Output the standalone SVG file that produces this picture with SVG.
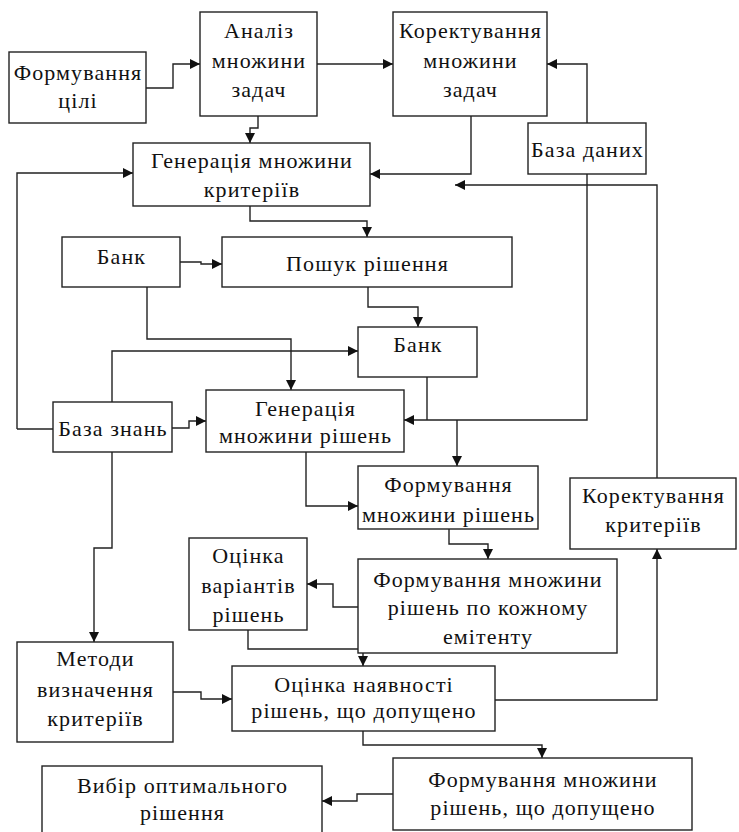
<svg xmlns="http://www.w3.org/2000/svg" width="739" height="832" viewBox="0 0 739 832" font-family="Liberation Serif, Times New Roman, DejaVu Serif, serif">
  <style>
    .box { fill: #fff; stroke: #222; stroke-width: 1.4; }
    .lbl { font-size: 22px; letter-spacing: 1.1px; fill: #111; text-anchor: middle; }
    .wire { fill: none; stroke: #222; stroke-width: 1.4; }
  </style>
  <defs>
    <marker id="arr" viewBox="0 0 10 10" refX="10" refY="5" markerWidth="10" markerHeight="10" markerUnits="userSpaceOnUse" orient="auto">
      <path d="M0,0 L10,5 L0,10 z" fill="#111"/>
    </marker>
  </defs>

  <rect width="739" height="832" fill="#fff"/>

  <!-- connectors -->
  <g id="connectors" class="wire" marker-end="url(#arr)">
    <path d="M146,88 H173 V64 H200"/>
    <path d="M317,64 H393"/>
    <path d="M258,116 V128 H250 V143"/>
    <path d="M471,116 V174 H370"/>
    <path d="M587,123 V64 H547"/>
    <path d="M657,478 V185 H455"/>
    <path d="M17,429 V173 H133"/>
    <path d="M250,206 V221 H367 V237"/>
    <path d="M180,262 H201 V264 H222"/>
    <path d="M147,287 V339 H291 V390"/>
    <path d="M368,287 V307 H418 V327"/>
    <path d="M112,402 V351 H358"/>
    <path d="M17,429 H53" marker-end="none"/>
    <path d="M172,428 H189 V421 H206"/>
    <path d="M587,174 V420 H404"/>
    <path d="M427,377 V420" marker-end="none"/>
    <path d="M457,420 V466"/>
    <path d="M306,452 V506 H358"/>
    <path d="M449,529 V544 H488 V559"/>
    <path d="M358,607 H333 V584 H307"/>
    <path d="M248,630 V649 H363 V666"/>
    <path d="M112,452 V548 H94 V642"/>
    <path d="M173,692 H201 V699 H232"/>
    <path d="M495,700 H657 V549"/>
    <path d="M363,731 V745 H542 V758"/>
    <path d="M393,794 H357 V801 H322"/>
  </g>

  <g id="formuvannia-tsili">
    <rect class="box" x="9" y="52" width="137" height="71"/>
    <text class="lbl" x="78" y="80">Формування</text>
    <text class="lbl" x="78" y="108">цілі</text>
  </g>

  <g id="analiz">
    <rect class="box" x="200" y="12" width="117" height="104"/>
    <text class="lbl" x="259" y="38">Аналіз</text>
    <text class="lbl" x="259" y="68">множини</text>
    <text class="lbl" x="259" y="97">задач</text>
  </g>

  <g id="koryguvannia-zadach">
    <rect class="box" x="393" y="12" width="154" height="104"/>
    <text class="lbl" x="470.5" y="38">Коректування</text>
    <text class="lbl" x="470.5" y="68">множини</text>
    <text class="lbl" x="470.5" y="97">задач</text>
  </g>

  <g id="baza-danykh">
    <rect class="box" x="528" y="123" width="118" height="51"/>
    <text class="lbl" x="587.5" y="157">База даних</text>
  </g>

  <g id="heneratsiia-kryteriiv">
    <rect class="box" x="133" y="143" width="237" height="63"/>
    <text class="lbl" x="252" y="168">Генерація множини</text>
    <text class="lbl" x="252" y="197">критеріїв</text>
  </g>

  <g id="bank-1">
    <rect class="box" x="62" y="237" width="118" height="50"/>
    <text class="lbl" x="121.5" y="264">Банк</text>
  </g>

  <g id="poshuk">
    <rect class="box" x="222" y="237" width="290" height="50"/>
    <text class="lbl" x="367.5" y="271">Пошук рішення</text>
  </g>

  <g id="bank-2">
    <rect class="box" x="358" y="327" width="119" height="50"/>
    <text class="lbl" x="418" y="352">Банк</text>
  </g>

  <g id="baza-znan">
    <rect class="box" x="53" y="402" width="119" height="50"/>
    <text class="lbl" x="113" y="436">База знань</text>
  </g>

  <g id="heneratsiia-rishen">
    <rect class="box" x="206" y="390" width="198" height="62"/>
    <text class="lbl" x="305.5" y="416">Генерація</text>
    <text class="lbl" x="305.5" y="443">множини рішень</text>
  </g>

  <g id="formuvannia-rishen">
    <rect class="box" x="358" y="466" width="180" height="63"/>
    <text class="lbl" x="448.5" y="492">Формування</text>
    <text class="lbl" x="448.5" y="522">множини рішень</text>
  </g>

  <g id="koryguvannia-kryteriiv">
    <rect class="box" x="570" y="478" width="166" height="71"/>
    <text class="lbl" x="653.5" y="503">Коректування</text>
    <text class="lbl" x="653.5" y="532">критеріїв</text>
  </g>

  <g id="otsinka-variantiv">
    <rect class="box" x="189" y="538" width="118" height="92"/>
    <text class="lbl" x="248.5" y="563">Оцінка</text>
    <text class="lbl" x="248.5" y="593">варіантів</text>
    <text class="lbl" x="248.5" y="622">рішень</text>
  </g>

  <g id="formuvannia-po-emitentu">
    <rect class="box" x="358" y="559" width="259" height="94"/>
    <text class="lbl" x="488" y="587">Формування множини</text>
    <text class="lbl" x="488" y="615">рішень по кожному</text>
    <text class="lbl" x="488" y="644">емітенту</text>
  </g>

  <g id="metody">
    <rect class="box" x="17" y="642" width="156" height="100"/>
    <text class="lbl" x="95.5" y="666">Методи</text>
    <text class="lbl" x="95.5" y="697">визначення</text>
    <text class="lbl" x="95.5" y="726">критеріїв</text>
  </g>

  <g id="otsinka-naiavnosti">
    <rect class="box" x="232" y="666" width="263" height="65"/>
    <text class="lbl" x="364" y="692">Оцінка наявності</text>
    <text class="lbl" x="364" y="718">рішень, що допущено</text>
  </g>

  <g id="formuvannia-dopushcheno">
    <rect class="box" x="393" y="758" width="299" height="72"/>
    <text class="lbl" x="543" y="787">Формування множини</text>
    <text class="lbl" x="543" y="815">рішень, що допущено</text>
  </g>

  <g id="vybir">
    <rect class="box" x="42" y="766" width="280" height="80"/>
    <text class="lbl" x="182.5" y="793">Вибір оптимального</text>
    <text class="lbl" x="182.5" y="820">рішення</text>
  </g>
</svg>
